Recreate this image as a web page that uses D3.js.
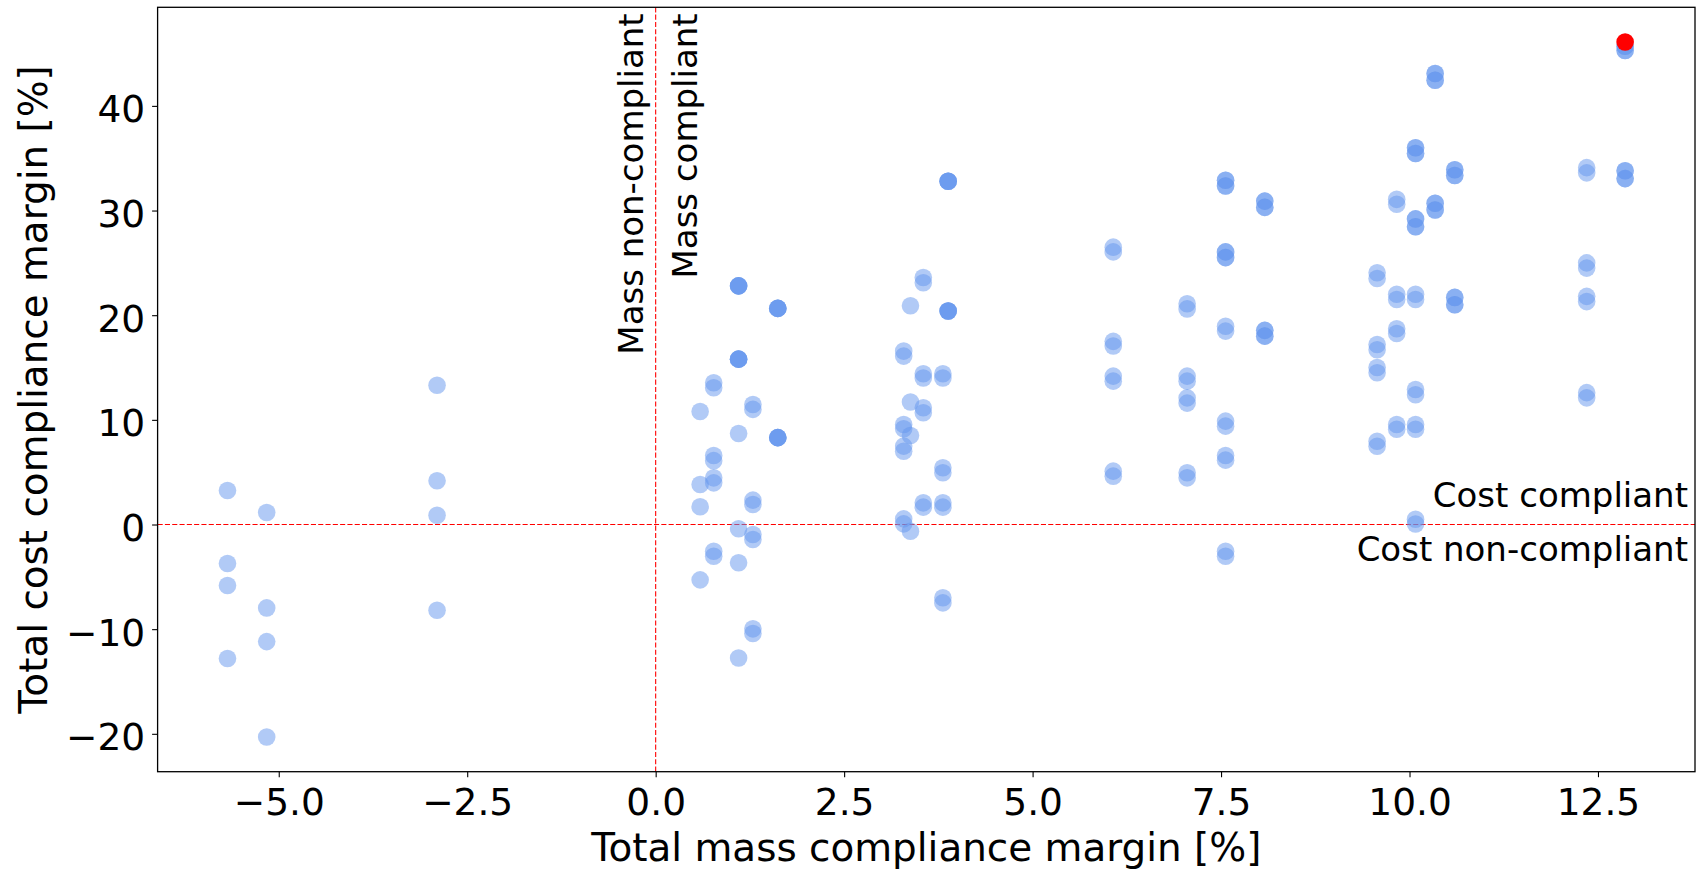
<!DOCTYPE html>
<html>
<head>
<meta charset="utf-8">
<script src="https://cdn.jsdelivr.net/npm/d3@7"></script>
<style>
  html, body { margin: 0; padding: 0; background: #fff; }
  svg text { font-family: "DejaVu Sans", sans-serif; fill: #000; }
</style>
</head>
<body>
<div id="chart"></div>
<script>
const WIDTH = 1698;
const HEIGHT = 869;
const MARGIN = { top: 7.3, right: 3, bottom: 97.3, left: 157.6 };

const POINT_RADIUS = 8.8;
const TICK_FONT = 37.5;
const LABEL_FONT = 38.9;
const NOTE_FONT = 34;

// mass margin of each design column [%]
const massLevels = [
  -5.68, -5.16, -2.90, 0.59, 0.77, 1.10, 1.29, 1.62, 3.29, 3.38, 3.55, 3.81,
  3.88, 6.07, 7.05, 7.56, 8.08, 9.57, 9.83, 10.08, 10.34, 10.60, 12.35, 12.86
];

// cost margins of the designs in each column [%] (repeats = stacked points)
const costValues = [
  [3.25, -3.73, -5.83, -12.8],
  [1.15, -7.97, -11.19, -20.3],
  [13.3, 4.18, 0.89, -8.19],
  [10.8, 3.82, 1.69, -5.29],
  [13.55, 13.07, 6.6, 6.1, 4.46, 3.98, -2.55, -3.03],
  [22.8, 22.8, 22.8, 22.8, 15.8, 15.8, 15.8, 15.8, 8.7, -0.41, -3.66, -12.75],
  [11.47, 11.0, 2.33, 1.91, -0.96, -1.43, -9.97, -10.42],
  [20.65, 20.65, 20.65, 20.65, 8.3, 8.3, 8.3, 8.3],
  [16.57, 16.09, 9.56, 9.15, 7.49, 7.0, 0.54, 0.06],
  [20.9, 11.7, 8.5, -0.64],
  [23.6, 23.1, 14.4, 14.0, 11.15, 10.68, 2.07, 1.66],
  [14.4, 14.0, 5.42, 4.94, 2.07, 1.66, -7.0, -7.49],
  [32.8, 32.8, 32.8, 32.8, 20.4, 20.4, 20.4, 20.4],
  [26.5, 26.05, 17.5, 17.05, 14.18, 13.7, 5.1, 4.62],
  [21.1, 20.6, 14.18, 13.7, 12.1, 11.6, 4.94, 4.46],
  [32.9, 32.9, 32.35, 32.35, 26.05, 26.05, 25.5, 25.5, 18.95, 18.48, 9.88, 9.4, 6.6, 6.15, -2.55, -3.03],
  [30.9, 30.9, 30.3, 30.3, 18.55, 18.55, 18.0, 18.0],
  [24.06, 23.5, 17.2, 16.7, 15.0, 14.5, 7.96, 7.48],
  [31.07, 30.6, 22.0, 21.5, 18.7, 18.25, 9.56, 9.1],
  [36.0, 36.0, 35.45, 35.45, 29.2, 29.2, 28.45, 28.45, 22.0, 21.5, 12.9, 12.4, 9.56, 9.1, 0.5, 0.05],
  [43.1, 43.1, 42.45, 42.45, 30.7, 30.7, 30.05, 30.05],
  [33.9, 33.9, 33.35, 33.35, 21.7, 21.7, 21.0, 21.0],
  [34.1, 33.6, 25.0, 24.5, 21.8, 21.3, 12.6, 12.1],
  [45.7, 45.7, 45.3, 45.3, 33.8, 33.8, 33.05, 33.05]
];

// best design
const optimumMass = [12.86];
const optimumCost = [46.1];

const xTicks = [-5, -2.5, 0, 2.5, 5, 7.5, 10, 12.5];
const yTicks = [-20, -10, 0, 10, 20, 30, 40];

const xLabel = "Total mass compliance margin [%]";
const yLabel = "Total cost compliance margin [%]";

let points = [];
massLevels.forEach((m, i) => {
  costValues[i].forEach(c => points.push([m, c]));
});
const optimum = optimumMass.map((m, i) => [m, optimumCost[i]]);

// matplotlib style 5% data margins
function padded([lo, hi]) {
  const pad = (hi - lo) * 0.05;
  return [lo - pad, hi + pad];
}
const all = points.concat(optimum);

const x = d3.scaleLinear()
  .domain(padded(d3.extent(all, d => d[0])))
  .range([MARGIN.left, WIDTH - MARGIN.right]);
const y = d3.scaleLinear()
  .domain(padded(d3.extent(all, d => d[1])))
  .range([HEIGHT - MARGIN.bottom, MARGIN.top]);

const svg = d3.select("#chart")
  .append("svg")
  .attr("width", WIDTH)
  .attr("height", HEIGHT)
  .attr("viewBox", "0 0 " + WIDTH + " " + HEIGHT);

svg.append("rect")
  .attr("width", WIDTH)
  .attr("height", HEIGHT)
  .attr("fill", "#fff");

// compliance boundaries
svg.append("line")
  .attr("x1", MARGIN.left).attr("x2", WIDTH - MARGIN.right)
  .attr("y1", y(0)).attr("y2", y(0))
  .style("stroke", "red")
  .style("stroke-width", 1.1)
  .style("stroke-dasharray", "5.1,2.2");
svg.append("line")
  .attr("x1", x(0)).attr("x2", x(0))
  .attr("y1", MARGIN.top).attr("y2", HEIGHT - MARGIN.bottom)
  .style("stroke", "red")
  .style("stroke-width", 1.1)
  .style("stroke-dasharray", "5.1,2.2");

svg.append("g")
  .selectAll("circle")
  .data(points)
  .enter()
  .append("circle")
  .attr("cx", d => x(d[0]))
  .attr("cy", d => y(d[1]))
  .attr("r", POINT_RADIUS)
  .style("fill", "cornflowerblue")
  .style("fill-opacity", 0.5);

svg.append("g")
  .selectAll("circle")
  .data(optimum)
  .enter()
  .append("circle")
  .attr("cx", d => x(d[0]))
  .attr("cy", d => y(d[1]))
  .attr("r", POINT_RADIUS)
  .style("fill", "red");

// axes
const xAxis = svg.append("g")
  .attr("transform", `translate(0,${HEIGHT - MARGIN.bottom})`)
  .call(d3.axisBottom(x).tickValues(xTicks).tickFormat(d3.format(".1f")).tickSize(5.5).tickSizeOuter(0));
xAxis.select(".domain").remove();
xAxis.selectAll(".tick line").style("stroke", "#000").style("stroke-width", 1.1);
xAxis.selectAll(".tick text")
  .attr("y", 43.3).attr("dy", null)
  .style("font-size", TICK_FONT + "px")
  .style("font-family", "DejaVu Sans");

const yAxis = svg.append("g")
  .attr("transform", `translate(${MARGIN.left},0)`)
  .call(d3.axisLeft(y).tickValues(yTicks).tickFormat(d3.format("d")).tickSize(5.5).tickSizeOuter(0));
yAxis.select(".domain").remove();
yAxis.selectAll(".tick line").style("stroke", "#000").style("stroke-width", 1.1);
yAxis.selectAll(".tick text")
  .attr("x", -12.5).attr("dy", 16)
  .style("font-size", TICK_FONT + "px")
  .style("font-family", "DejaVu Sans");

// frame
svg.append("rect")
  .attr("x", MARGIN.left)
  .attr("y", MARGIN.top)
  .attr("width", WIDTH - MARGIN.left - MARGIN.right)
  .attr("height", HEIGHT - MARGIN.top - MARGIN.bottom)
  .style("fill", "none")
  .style("stroke", "#000")
  .style("stroke-width", 1.3);

svg.append("text")
  .attr("x", (MARGIN.left + WIDTH - MARGIN.right) / 2)
  .attr("y", 861)
  .attr("text-anchor", "middle")
  .style("font-size", LABEL_FONT + "px")
  .text(xLabel);

svg.append("text")
  .attr("transform", `translate(46.5,${(MARGIN.top + HEIGHT - MARGIN.bottom) / 2}) rotate(-90)`)
  .attr("text-anchor", "middle")
  .style("font-size", LABEL_FONT + "px")
  .text(yLabel);

// region notes
svg.append("text")
  .attr("transform", `translate(${x(0) - 13},${MARGIN.top + 6}) rotate(-90)`)
  .attr("text-anchor", "end")
  .style("font-size", NOTE_FONT + "px")
  .text("Mass non-compliant");
svg.append("text")
  .attr("transform", `translate(${x(0) + 41},${MARGIN.top + 6}) rotate(-90)`)
  .attr("text-anchor", "end")
  .style("font-size", NOTE_FONT + "px")
  .text("Mass compliant");
svg.append("text")
  .attr("x", WIDTH - MARGIN.right - 7)
  .attr("y", y(0) - 18)
  .attr("text-anchor", "end")
  .style("font-size", NOTE_FONT + "px")
  .text("Cost compliant");
svg.append("text")
  .attr("x", WIDTH - MARGIN.right - 7)
  .attr("y", y(0) + 36)
  .attr("text-anchor", "end")
  .style("font-size", NOTE_FONT + "px")
  .text("Cost non-compliant");
</script>
</body>
</html>
